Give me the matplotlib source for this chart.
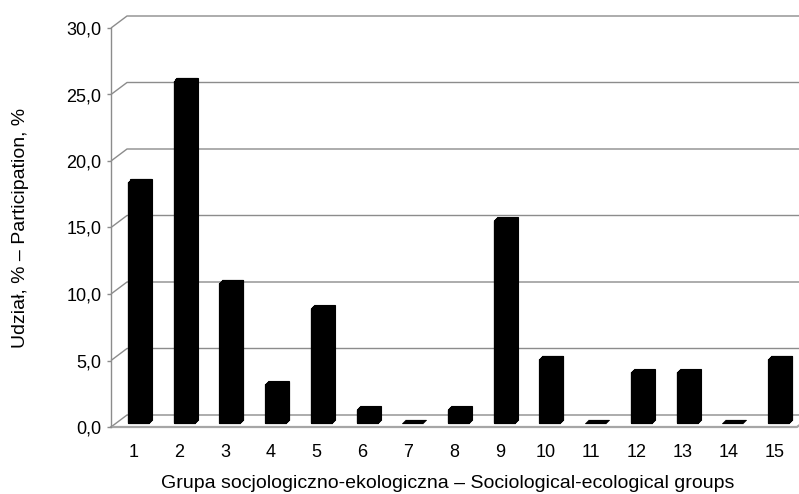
import matplotlib
matplotlib.use("Agg")
import matplotlib.pyplot as plt
import matplotlib.patheffects as pe
import numpy as np

# ---- data ----
groups = [str(i) for i in range(1, 16)]
share = [18.1, 25.7, 10.5, 2.9, 8.6, 1.0, 0.0, 1.0, 15.2, 4.8, 0.0, 3.8, 3.8, 0.0, 4.8]
y_ticks = [0, 5, 10, 15, 20, 25, 30]
y_tick_labels = ["0,0", "5,0", "10,0", "15,0", "20,0", "25,0", "30,0"]
x_title = "Grupa socjologiczno-ekologiczna – Sociological-ecological groups"
y_title = "Udział, % – Participation, %"

plt.rcParams['font.family'] = ['Liberation Sans', 'DejaVu Sans']

W, H, DPI = 799, 494, 100
fig = plt.figure(figsize=(W / DPI, H / DPI), dpi=DPI)

# front plane of the 3D box (pixels)
left_px, right_px, bottom_px, top_px = 111, 797, 427, 28
ax = fig.add_axes([left_px / W, (H - bottom_px) / H,
                   (right_px - left_px) / W, (bottom_px - top_px) / H])
n = len(groups)
x = np.arange(1, n + 1)
ax.set_xlim(0.5, n + 0.5)
ax.set_ylim(0, 30)

px_x = (right_px - left_px) / n      # pixels per x unit
px_y = (bottom_px - top_px) / 30.0   # pixels per y unit

BACK_DX, BACK_DY = 16 / px_x, 12 / px_y
BAR_DX, BAR_DY = 4.5 / px_x, 4 / px_y

grid_c = '#8c8c8c'
# back wall gridlines + side wall diagonals
for yv in y_ticks:
    ax.plot([0.5, 0.5 + BACK_DX, n + 0.5 + BACK_DX + 1],
            [yv, yv + BACK_DY, yv + BACK_DY],
            color=grid_c, lw=1.0, clip_on=False, zorder=1,
            solid_capstyle='butt')
# floor front edge and right diagonal
ax.plot([0.5, n + 0.5, n + 0.5 + BACK_DX], [0, 0, BACK_DY],
        color='#a6a6a6', lw=1.6, clip_on=False, zorder=1)

# bars with a small extrusion
depth_pt = (3 * 72 / DPI, 3.5 * 72 / DPI)
effects = [pe.Stroke(offset=(depth_pt[0] * s, depth_pt[1] * s),
                     linewidth=0.8, foreground='black')
           for s in np.linspace(0, 1, 7)] + [pe.Normal()]
bars = ax.bar(x + BAR_DX, share, width=21 / px_x, bottom=BAR_DY,
              color='black', edgecolor='black', linewidth=0.8,
              zorder=3, clip_on=False)
for b in bars:
    b.set_path_effects(effects)

# axes styling
for s in ['top', 'right', 'bottom']:
    ax.spines[s].set_visible(False)
ax.spines['left'].set_color(grid_c)
ax.spines['left'].set_linewidth(1.0)
ax.set_yticks(y_ticks)
ax.set_yticklabels(y_tick_labels, fontsize=13)
ax.set_xticks(x)
ax.set_xticklabels(groups, fontsize=13)
ax.tick_params(axis='y', length=3, width=1, color=grid_c, pad=4)
ax.tick_params(axis='x', length=0, pad=12)
ax.set_xlabel(x_title, fontsize=14, va='center')
ax.set_ylabel(y_title, fontsize=14, va='center')
ax.xaxis.set_label_coords((448 - left_px) / (right_px - left_px),
                          (bottom_px - 483) / (bottom_px - top_px))
ax.yaxis.set_label_coords((20 - left_px) / (right_px - left_px),
                          0.5)
ax.patch.set_visible(False)

fig.savefig("out.png", dpi=DPI)
